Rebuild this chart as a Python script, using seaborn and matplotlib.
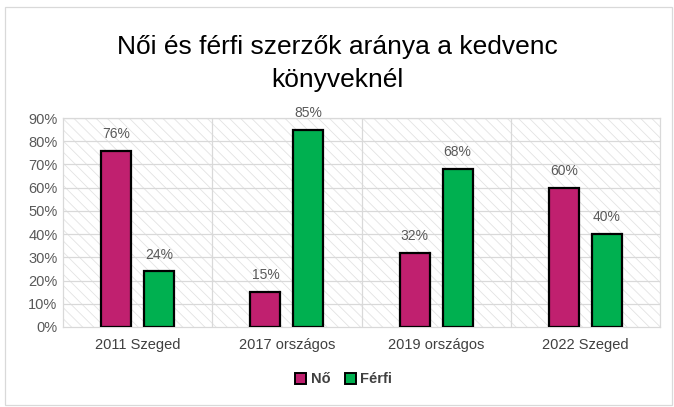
import pandas as pd
import seaborn as sns
import matplotlib.pyplot as plt
from matplotlib.patches import Rectangle
from matplotlib.ticker import PercentFormatter

categories = ['2011 Szeged', '2017 országos', '2019 országos', '2022 Szeged']
no_values = [76, 15, 32, 60]
ferfi_values = [24, 85, 68, 40]
series_names = ['Nő', 'Férfi']
colors = ['#C0206F', '#00B050']

df = pd.DataFrame({
    'cat': categories * 2,
    'val': no_values + ferfi_values,
    'nem': [series_names[0]] * 4 + [series_names[1]] * 4,
})

sns.set_style('white')
plt.rcParams['font.family'] = ['Liberation Sans', 'DejaVu Sans']
plt.rcParams['hatch.color'] = '#D9D9D9'
plt.rcParams['hatch.linewidth'] = 0.6

fig = plt.figure(figsize=(6.74, 4.07), dpi=100)
ax = fig.add_axes([63 / 674, 80 / 407, 597 / 674, 209 / 407])

# hatched plot area like the Excel pattern fill
ax.add_patch(Rectangle((0, 0), 1, 1, transform=ax.transAxes, facecolor='white',
                       edgecolor='#E3E3E3', hatch='\\\\\\', linewidth=0, zorder=0))

sns.barplot(data=df, x='cat', y='val', hue='nem', palette=colors, width=0.576, gap=0.306,
            saturation=1, edgecolor='black', linewidth=1.6, ax=ax, legend=False, zorder=3)

for c in ax.containers:
    ax.bar_label(c, labels=[f'{v:.0f}%' for v in c.datavalues], padding=7,
                 fontsize=10, color='#595959')

ax.set_ylim(0, 90)
ax.set_xlim(-0.5, 3.5)
ax.set_yticks(range(0, 91, 10))
ax.yaxis.set_major_formatter(PercentFormatter(decimals=0))
ax.set_xlabel('')
ax.set_ylabel('')
ax.tick_params(axis='both', length=0, labelsize=10.5, colors='#595959', pad=4)
ax.tick_params(axis='x', pad=8)
for t in ax.get_xticklabels():
    t.set_color('#404040')

for y in range(10, 91, 10):
    ax.axhline(y, color='#D9D9D9', linewidth=0.9, zorder=1)
for x in [0.5, 1.5, 2.5]:
    ax.axvline(x, color='#D9D9D9', linewidth=0.9, zorder=1)
for s in ax.spines.values():
    s.set_color('#D9D9D9')
    s.set_linewidth(0.9)

fig.suptitle('Női és férfi szerzők aránya a kedvenc\nkönyveknél', y=0.915, fontsize=19,
             linespacing=1.5, color='black')

handles = [Rectangle((0, 0), 1, 1, facecolor=col, edgecolor='black', linewidth=1.4) for col in colors]
leg = fig.legend(handles, series_names, loc='center', bbox_to_anchor=(0.51, 0.068), ncol=2,
                 frameon=False, handlelength=0.75, handleheight=0.75, handletextpad=0.3,
                 columnspacing=1.0, prop={'weight': 'bold', 'size': 10.5})
for t in leg.get_texts():
    t.set_color('#404040')

fig.patches.append(Rectangle((5 / 674, 2 / 407), 667 / 674, 398 / 407, transform=fig.transFigure,
                             fill=False, edgecolor='#D9D9D9', linewidth=0.9))

fig.savefig('out.png', dpi=100)
